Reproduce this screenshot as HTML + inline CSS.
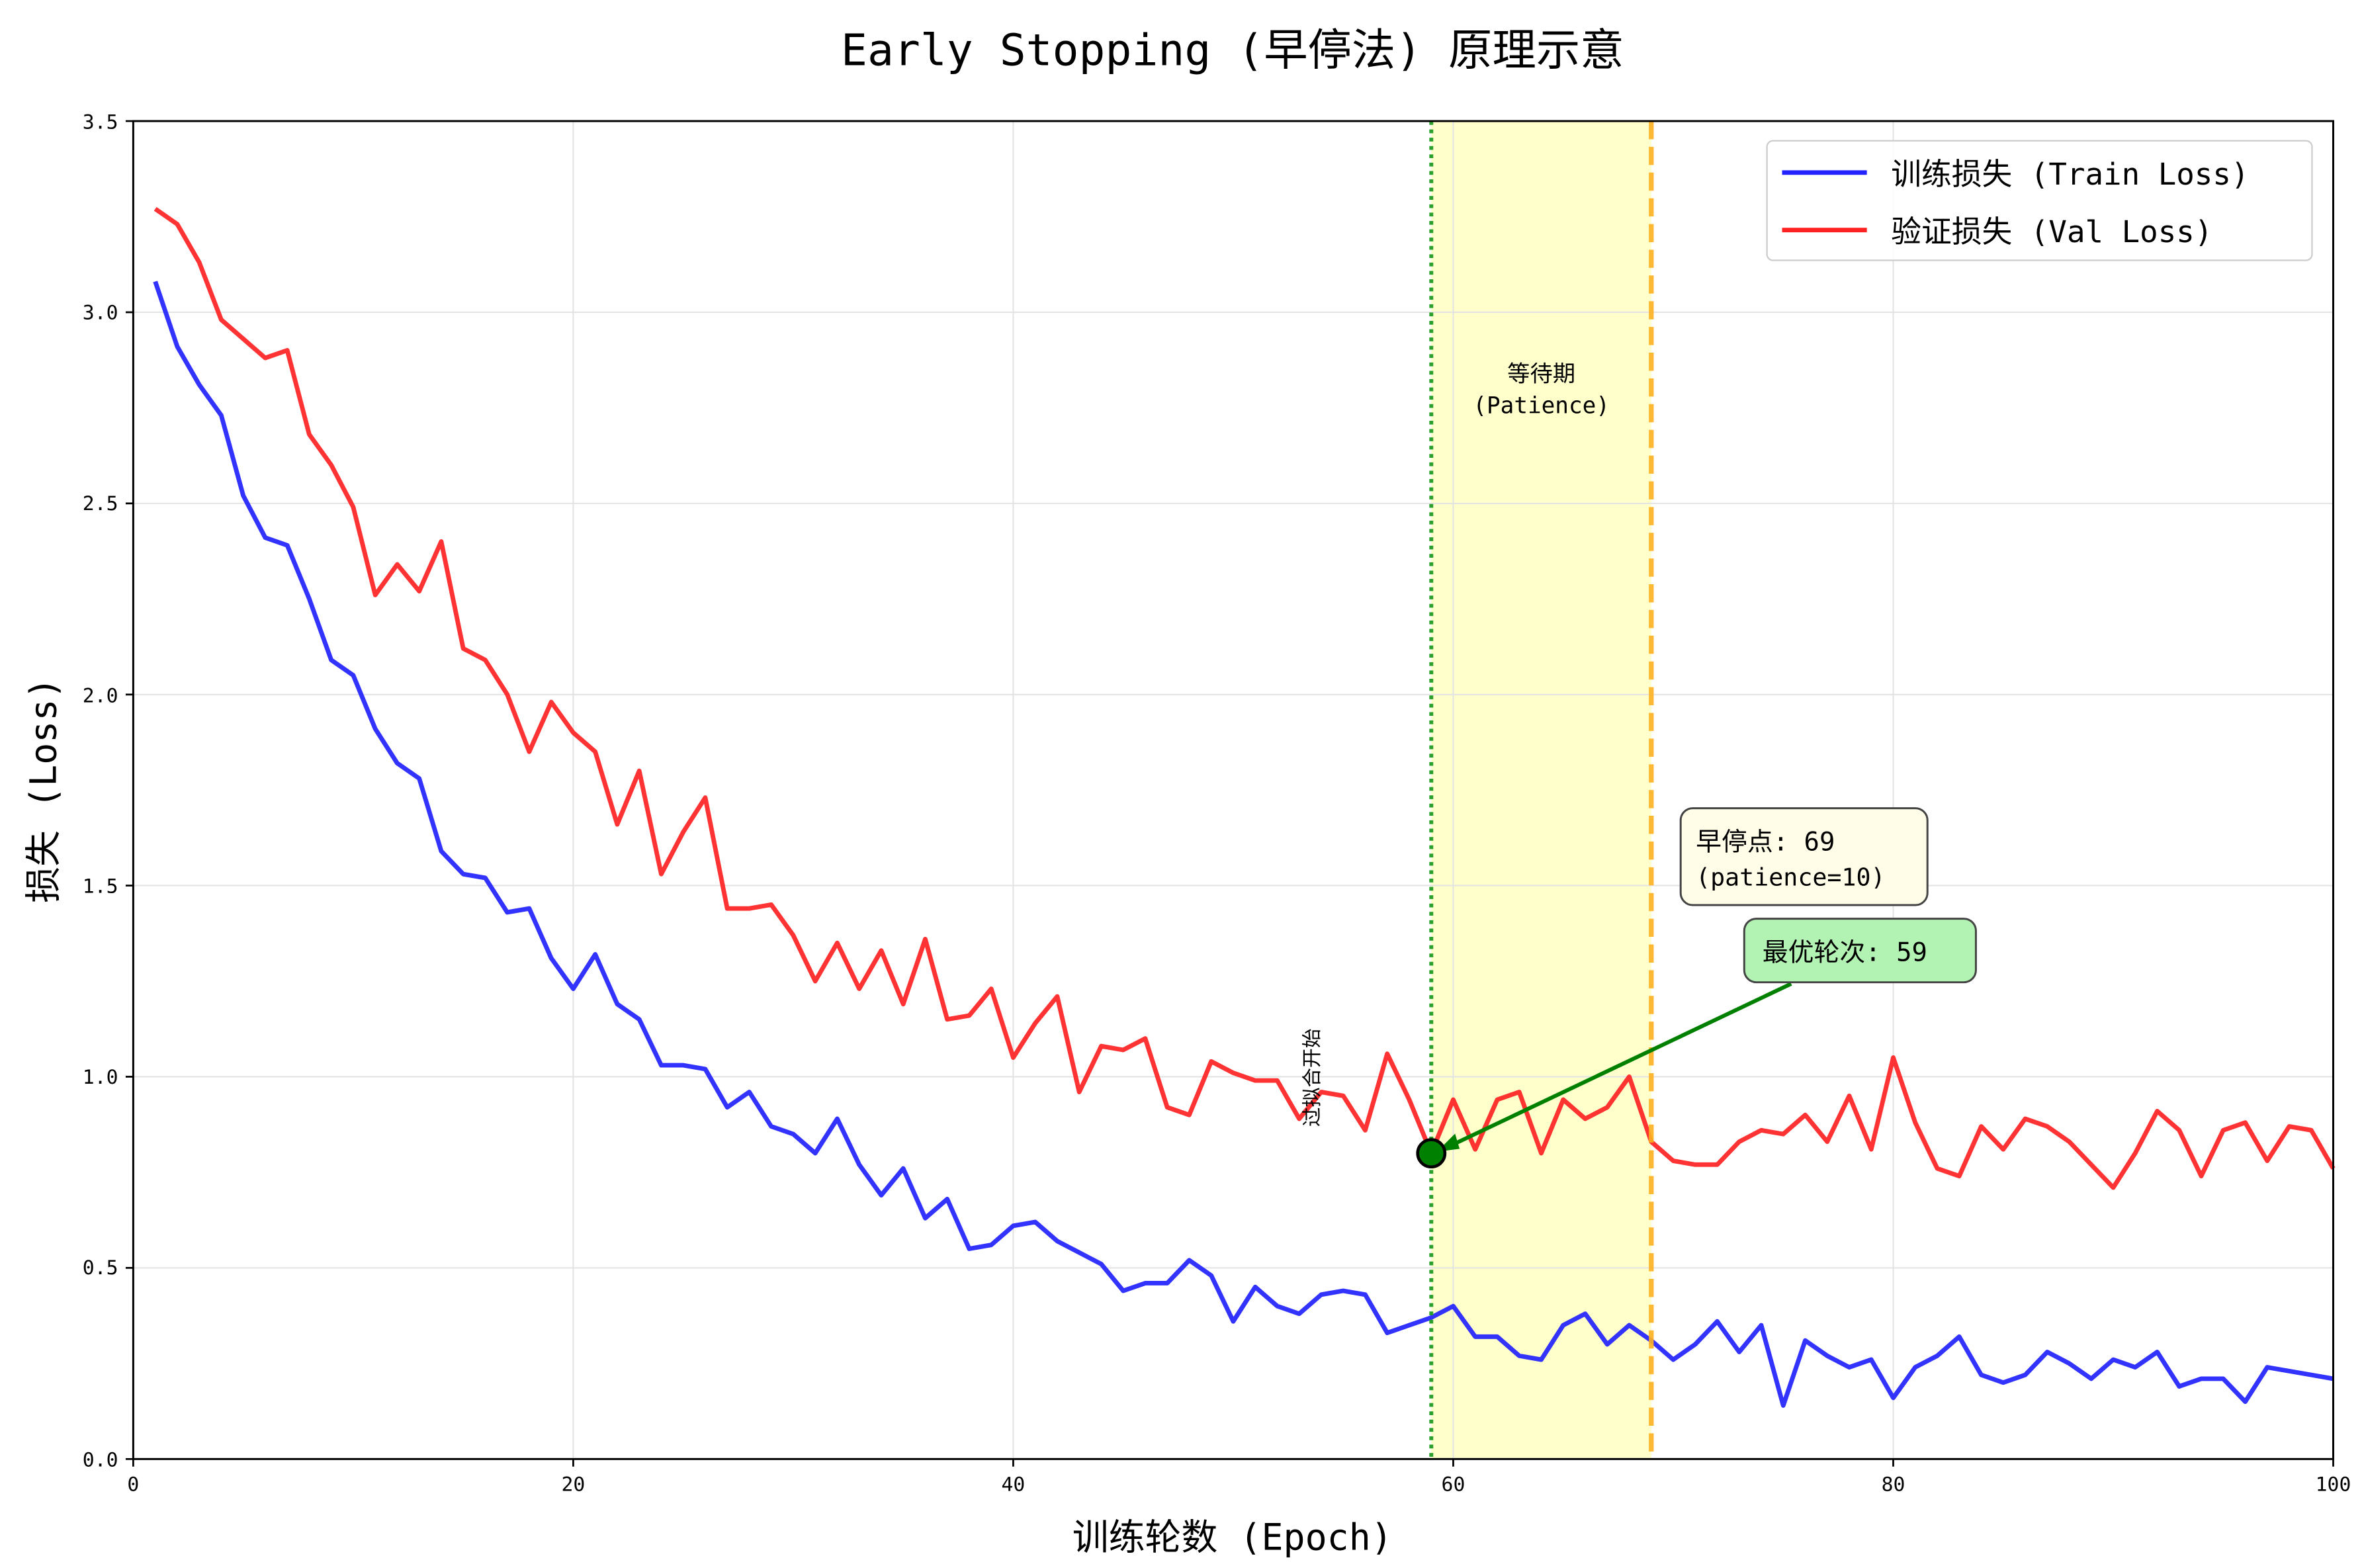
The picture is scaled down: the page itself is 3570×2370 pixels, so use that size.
<!DOCTYPE html>
<html><head><meta charset="utf-8">
<style>
html,body{margin:0;padding:0;background:#fff;}
svg{display:block;}
text{font-family:"DejaVu Sans Mono","Liberation Mono","Noto Sans CJK SC",monospace;fill:#000;}
.cj{font-family:"DejaVu Sans Mono","Noto Sans CJK SC",sans-serif;}
</style></head>
<body>
<svg width="3570" height="2370" viewBox="0 0 1560 1036" preserveAspectRatio="none" xmlns="http://www.w3.org/2000/svg">
<rect x="0" y="0" width="1560" height="1036" fill="#fff"/>
<text class="cj" x="814" y="43" font-size="29" text-anchor="middle">Early Stopping (早停法) 原理示意</text>
<rect x="945.3" y="80" width="145.3" height="884" fill="#ffff99" fill-opacity="0.5"/>
<g stroke="#e3e3e3" stroke-width="0.9">
<line x1="88" y1="206.3" x2="1541" y2="206.3"/><line x1="88" y1="332.6" x2="1541" y2="332.6"/>
<line x1="88" y1="458.9" x2="1541" y2="458.9"/><line x1="88" y1="585.1" x2="1541" y2="585.1"/>
<line x1="88" y1="711.4" x2="1541" y2="711.4"/><line x1="88" y1="837.7" x2="1541" y2="837.7"/>
<line x1="378.6" y1="80" x2="378.6" y2="964"/><line x1="669.2" y1="80" x2="669.2" y2="964"/>
<line x1="959.8" y1="80" x2="959.8" y2="964"/><line x1="1250.4" y1="80" x2="1250.4" y2="964"/>
</g>
<g transform="translate(88,964) scale(14.53,-252.6)" fill="none" stroke-linejoin="round">
<polyline vector-effect="non-scaling-stroke" stroke="#2222ff" stroke-opacity="0.92" stroke-width="6.9" points="1,3.08 2,2.91 3,2.81 4,2.73 5,2.52 6,2.41 7,2.39 8,2.25 9,2.09 10,2.05 11,1.91 12,1.82 13,1.78 14,1.59 15,1.53 16,1.52 17,1.43 18,1.44 19,1.31 20,1.23 21,1.32 22,1.19 23,1.15 24,1.03 25,1.03 26,1.02 27,0.92 28,0.96 29,0.87 30,0.85 31,0.80 32,0.89 33,0.77 34,0.69 35,0.76 36,0.63 37,0.68 38,0.55 39,0.56 40,0.61 41,0.62 42,0.57 43,0.54 44,0.51 45,0.44 46,0.46 47,0.46 48,0.52 49,0.48 50,0.36 51,0.45 52,0.40 53,0.38 54,0.43 55,0.44 56,0.43 57,0.33 58,0.35 59,0.37 60,0.40 61,0.32 62,0.32 63,0.27 64,0.26 65,0.35 66,0.38 67,0.30 68,0.35 69,0.31 70,0.26 71,0.30 72,0.36 73,0.28 74,0.35 75,0.14 76,0.31 77,0.27 78,0.24 79,0.26 80,0.16 81,0.24 82,0.27 83,0.32 84,0.22 85,0.20 86,0.22 87,0.28 88,0.25 89,0.21 90,0.26 91,0.24 92,0.28 93,0.19 94,0.21 95,0.21 96,0.15 97,0.24 98,0.23 99,0.22 100,0.21"/>
<polyline vector-effect="non-scaling-stroke" stroke="#ff2222" stroke-opacity="0.92" stroke-width="6.9" points="1,3.27 2,3.23 3,3.13 4,2.98 5,2.93 6,2.88 7,2.90 8,2.68 9,2.60 10,2.49 11,2.26 12,2.34 13,2.27 14,2.40 15,2.12 16,2.09 17,2.00 18,1.85 19,1.98 20,1.90 21,1.85 22,1.66 23,1.80 24,1.53 25,1.64 26,1.73 27,1.44 28,1.44 29,1.45 30,1.37 31,1.25 32,1.35 33,1.23 34,1.33 35,1.19 36,1.36 37,1.15 38,1.16 39,1.23 40,1.05 41,1.14 42,1.21 43,0.96 44,1.08 45,1.07 46,1.10 47,0.92 48,0.90 49,1.04 50,1.01 51,0.99 52,0.99 53,0.89 54,0.96 55,0.95 56,0.86 57,1.06 58,0.94 59,0.80 60,0.94 61,0.81 62,0.94 63,0.96 64,0.80 65,0.94 66,0.89 67,0.92 68,1.00 69,0.83 70,0.78 71,0.77 72,0.77 73,0.83 74,0.86 75,0.85 76,0.90 77,0.83 78,0.95 79,0.81 80,1.05 81,0.88 82,0.76 83,0.74 84,0.87 85,0.81 86,0.89 87,0.87 88,0.83 89,0.77 90,0.71 91,0.80 92,0.91 93,0.86 94,0.74 95,0.86 96,0.88 97,0.78 98,0.87 99,0.86 100,0.76"/>
</g>
<line x1="945.3" y1="80" x2="945.3" y2="964" stroke="#2ca02c" stroke-width="2.6" stroke-dasharray="2.5,3"/>
<line x1="1090.6" y1="80" x2="1090.6" y2="964" stroke="#ffb020" stroke-opacity="0.9" stroke-width="3.2" stroke-dasharray="12,5"/>
<line x1="1183" y1="650" x2="958" y2="757" stroke="#008000" stroke-width="2.6"/>
<polygon points="949,761 961,749 964,759" fill="#008000"/>
<circle cx="945.3" cy="762" r="9" fill="#008000" stroke="#000" stroke-width="2"/>
<text class="cj" x="871" y="712" font-size="13" text-anchor="middle" transform="rotate(-90 871 712)">过拟合开始</text>
<text class="cj" x="1018" y="252" font-size="15" text-anchor="middle">等待期</text>
<text class="cj" x="1018" y="273" font-size="15" text-anchor="middle">(Patience)</text>
<rect x="1110" y="534" width="163" height="64" rx="8" fill="#fffde8" stroke="#444" stroke-width="1.3"/>
<text class="cj" x="1120" y="562" font-size="17">早停点: 69</text>
<text class="cj" x="1120" y="585" font-size="16">(patience=10)</text>
<rect x="1152" y="607" width="153" height="42" rx="8" fill="#b2f2b2" stroke="#444" stroke-width="1.3"/>
<text class="cj" x="1164" y="635" font-size="17">最优轮次: 59</text>
<rect x="88" y="80" width="1453" height="884" fill="none" stroke="#000" stroke-width="1.3"/>
<g stroke="#000" stroke-width="1.2">
<line x1="83" y1="80" x2="88" y2="80"/><line x1="83" y1="206.3" x2="88" y2="206.3"/><line x1="83" y1="332.6" x2="88" y2="332.6"/><line x1="83" y1="458.9" x2="88" y2="458.9"/><line x1="83" y1="585.1" x2="88" y2="585.1"/><line x1="83" y1="711.4" x2="88" y2="711.4"/><line x1="83" y1="837.7" x2="88" y2="837.7"/><line x1="83" y1="964" x2="88" y2="964"/>
<line x1="88" y1="964" x2="88" y2="969"/><line x1="378.6" y1="964" x2="378.6" y2="969"/><line x1="669.2" y1="964" x2="669.2" y2="969"/><line x1="959.8" y1="964" x2="959.8" y2="969"/><line x1="1250.4" y1="964" x2="1250.4" y2="969"/><line x1="1541" y1="964" x2="1541" y2="969"/>
</g>
<g font-size="13" text-anchor="end">
<text x="78" y="85">3.5</text><text x="78" y="211">3.0</text><text x="78" y="337">2.5</text><text x="78" y="464">2.0</text><text x="78" y="590">1.5</text><text x="78" y="716">1.0</text><text x="78" y="842">0.5</text><text x="78" y="969">0.0</text>
</g>
<g font-size="13" text-anchor="middle">
<text x="88" y="985">0</text><text x="378.6" y="985">20</text><text x="669.2" y="985">40</text><text x="959.8" y="985">60</text><text x="1250.4" y="985">80</text><text x="1541" y="985">100</text>
</g>
<text class="cj" x="814" y="1024" font-size="24" text-anchor="middle">训练轮数 (Epoch)</text>
<text class="cj" x="37" y="522" font-size="24" text-anchor="middle" transform="rotate(-90 37 522)">损失 (Loss)</text>
<rect x="1167" y="93" width="360" height="79" rx="4" fill="#fff" fill-opacity="0.85" stroke="#ccc" stroke-width="1"/>
<line x1="1177" y1="114" x2="1233" y2="114" stroke="#2222ff" stroke-width="3"/>
<line x1="1177" y1="152" x2="1233" y2="152" stroke="#ff2222" stroke-width="3"/>
<text class="cj" x="1249" y="122" font-size="20">训练损失 (Train Loss)</text>
<text class="cj" x="1249" y="160" font-size="20">验证损失 (Val Loss)</text>
</svg>
</body></html>
